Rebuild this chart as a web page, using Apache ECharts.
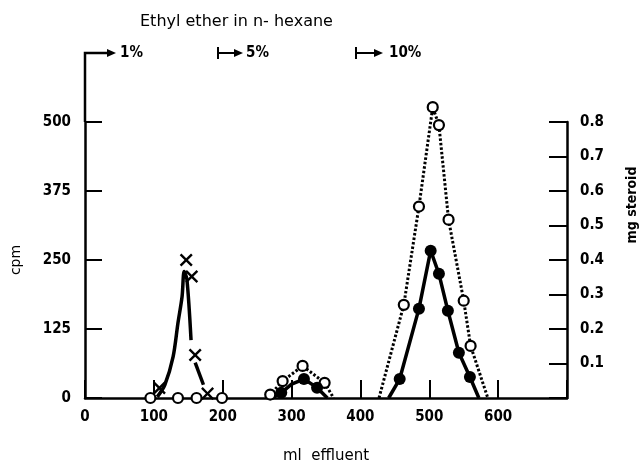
<!DOCTYPE html>
<html>
<head>
<meta charset="utf-8">
<script src="https://cdn.jsdelivr.net/npm/echarts@6/dist/echarts.min.js"></script>
<style>html,body{margin:0;padding:0;background:#fff}#c{width:639px;height:464px}</style>
</head>
<body>
<div id="c"></div>
<script>
// ---- data ----
const xTickLabels = ['0','100','200','300','400','500','600'];
const cpmTicks = [0,125,250,375,500];
const mgTicks = [0.1,0.2,0.3,0.4,0.5,0.6,0.7,0.8];

// X marks (cpm)
const crossMl  = [108, 147, 155, 160, 178];
const crossCpm = [18, 250, 220, 78, 8];
// smooth curve through the cpm peak (solid) and its dashed tail
const crossCurveMl  = [105, 116, 128, 135, 141, 144, 148, 154];
const crossCurveCpm = [2, 24, 75, 136, 184, 229, 215, 105];
const crossTailMl  = [160, 172];
const crossTailCpm = [64, 24];

// open circles (mg steroid, dotted line)
const openMl = [95, 135, 162, 199, 269, 287, 316, 348, 463, 485, 505, 514, 528, 550, 560];
const openMg = [0, 0, 0, 0, 0.01, 0.049, 0.093, 0.044, 0.27, 0.555, 0.843, 0.791, 0.517, 0.282, 0.151];
const openLineMl = [262, 269, 287, 316, 348, 361, null, 427, 463, 485, 505, 514, 528, 550, 560, 585];
const openLineMg = [0, 0.01, 0.049, 0.093, 0.044, 0, null, 0, 0.27, 0.555, 0.843, 0.791, 0.517, 0.282, 0.151, 0];

// filled circles (mg steroid, solid line)
const filledMl = [285, 318, 337, 457, 485, 502, 514, 527, 543, 559];
const filledMg = [0.015, 0.055, 0.03, 0.055, 0.259, 0.427, 0.36, 0.253, 0.131, 0.061];
const filledLineMl = [272, 285, 300, 318, 337, 352, null, 441, 457, 485, 502, 514, 527, 543, 559, 572];
const filledLineMg = [0, 0.015, 0.04, 0.055, 0.03, 0, null, 0, 0.055, 0.259, 0.427, 0.36, 0.253, 0.131, 0.061, 0];

const pairs = (xs, ys) => xs.map((x, i) => (x === null ? [null, null] : [x, ys[i]]));

const FONT = 'DejaVu Sans Condensed';
const GRID = {left: 85, right: 72, top: 122, bottom: 66, containLabel: false, outerBoundsMode: 'none'};
const crossPath = 'path://M0,1.3L1.3,0L5,3.7L8.7,0L10,1.3L6.3,5L10,8.7L8.7,10L5,6.3L1.3,10L0,8.7L3.7,5Z';

const chart = echarts.init(document.getElementById('c'), null, {renderer: 'canvas'});
const axisLine = {show: true, lineStyle: {color: '#000', width: 2.5}};
const labelStyle = {color: '#000', fontFamily: FONT, fontWeight: 'bold', fontSize: 15};

chart.setOption({
  animation: false,
  backgroundColor: '#fff',
  grid: GRID,
  xAxis: {
    type: 'value', min: 0, max: 700, interval: 100,
    axisLine: axisLine,
    axisTick: {show: true, inside: true, length: 18, lineStyle: {color: '#000', width: 2}},
    axisLabel: Object.assign({margin: 12, formatter: v => xTickLabels.includes(String(v)) ? String(v) : ''}, labelStyle),
    splitLine: {show: false},
    name: 'ml  effluent', nameLocation: 'middle', nameGap: 51,
    nameTextStyle: {color: '#000', fontFamily: 'DejaVu Sans', fontSize: 15}
  },
  yAxis: [{
    type: 'value', min: 0, max: 500, interval: 125,
    axisLine: axisLine,
    axisTick: {show: true, inside: true, length: 17, lineStyle: {color: '#000', width: 2}},
    axisLabel: Object.assign({margin: 14, formatter: v => cpmTicks.includes(v) ? String(v) : ''}, labelStyle),
    splitLine: {show: false},
    name: 'cpm', nameLocation: 'middle', nameGap: 62, nameRotate: 90,
    nameTextStyle: {color: '#000', fontFamily: 'DejaVu Sans', fontSize: 14}
  }, {
    type: 'value', min: 0, max: 0.8, interval: 0.1, position: 'right',
    axisLine: axisLine,
    axisTick: {show: true, inside: true, length: 18, lineStyle: {color: '#000', width: 2}},
    axisLabel: Object.assign({margin: 13, formatter: v => {
      const t = mgTicks.find(m => Math.abs(m - v) < 1e-6);
      return t === undefined ? '' : t.toFixed(1);
    }}, labelStyle),
    splitLine: {show: false}
  }],
  series: [
    {type: 'line', yAxisIndex: 0, data: pairs(crossCurveMl, crossCurveCpm), smooth: 0.3, showSymbol: false,
     lineStyle: {color: '#000', width: 3.5}, z: 2},
    {type: 'line', yAxisIndex: 0, data: pairs(crossTailMl, crossTailCpm), showSymbol: false,
     lineStyle: {color: '#000', width: 3.5}, z: 2},
    {type: 'line', yAxisIndex: 1, data: pairs(openLineMl, openLineMg), showSymbol: false, connectNulls: false,
     lineStyle: {color: '#000', width: 3, type: [2.5, 2]}, clip: false, z: 2},
    {type: 'line', yAxisIndex: 1, data: pairs(filledLineMl, filledLineMg), showSymbol: false, connectNulls: false,
     lineStyle: {color: '#000', width: 3.5}, clip: false, z: 2},
    {type: 'scatter', yAxisIndex: 0, data: pairs(crossMl, crossCpm), symbol: crossPath, symbolSize: 13,
     itemStyle: {color: '#000', opacity: 1}, z: 4},
    {type: 'scatter', yAxisIndex: 1, data: pairs(openMl, openMg), symbol: 'circle', symbolSize: 10,
     itemStyle: {color: '#fff', borderColor: '#000', borderWidth: 2.2, opacity: 1}, clip: false, z: 5},
    {type: 'scatter', yAxisIndex: 1, data: pairs(filledMl, filledMg), symbol: 'circle', symbolSize: 12,
     itemStyle: {color: '#000', opacity: 1}, clip: false, z: 5}
  ]
});

// solvent-change annotations and axis names drawn as graphics
const x0 = chart.convertToPixel({xAxisIndex: 0}, 0);
const yTop = GRID.top;
const arrowY = 53;
function arrowHead(x, y) {
  return {type: 'polygon', shape: {points: [[x, y - 4], [x + 9, y], [x, y + 4]]}, style: {fill: '#000'}};
}
const txt = (x, y, s, opt) => Object.assign({type: 'text', x: x, y: y,
  style: Object.assign({text: s, fill: '#000', font: 'bold 15px "' + FONT + '"', verticalAlign: 'middle'}, opt || {})});

chart.setOption({graphic: [
  {type: 'polyline', shape: {points: [[x0, yTop], [x0, arrowY], [108, arrowY]]}, style: {stroke: '#000', lineWidth: 2.5, fill: null}},
  arrowHead(107, arrowY),
  txt(120, arrowY, '1%'),
  {type: 'line', shape: {x1: 218, y1: arrowY - 6, x2: 218, y2: arrowY + 6}, style: {stroke: '#000', lineWidth: 2}},
  {type: 'line', shape: {x1: 218, y1: arrowY, x2: 235, y2: arrowY}, style: {stroke: '#000', lineWidth: 2}},
  arrowHead(234, arrowY),
  txt(246, arrowY, '5%'),
  {type: 'line', shape: {x1: 356, y1: arrowY - 6, x2: 356, y2: arrowY + 6}, style: {stroke: '#000', lineWidth: 2}},
  {type: 'line', shape: {x1: 356, y1: arrowY, x2: 375, y2: arrowY}, style: {stroke: '#000', lineWidth: 2}},
  arrowHead(374, arrowY),
  txt(389, arrowY, '10%'),
  txt(140, 22, 'Ethyl ether in n- hexane', {font: '16px "DejaVu Sans"'}),
  {type: 'text', x: 632, y: 205, rotation: Math.PI / 2,
   style: {text: 'mg steroid', fill: '#000', font: 'bold 14px "' + FONT + '"', align: 'center', verticalAlign: 'middle'}}
]});
</script>
</body>
</html>
